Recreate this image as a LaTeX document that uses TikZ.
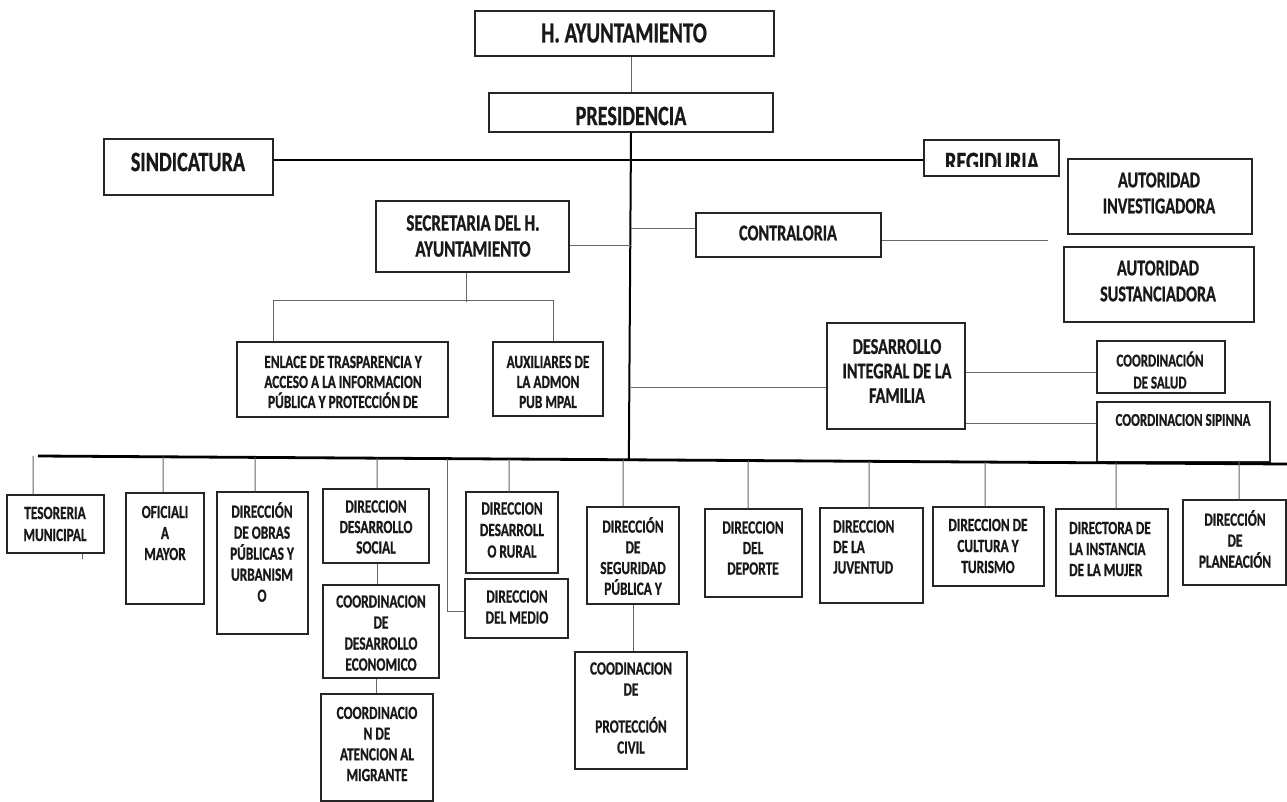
\documentclass[tikz,border=0pt]{standalone}
\usepackage{fontspec}
\setmainfont{Carlito}[FakeStretch=0.72,BoldFeatures={FakeBold=0.8}]
\usetikzlibrary{fit,calc}
\newcommand\orgfs[2]{\fontsize{#1}{#2}\selectfont\bfseries}
\begin{document}
\begin{tikzpicture}[x=1pt,y=-1pt,
  box/.style={draw=black!85,line width=1.3pt,inner sep=0pt},
  conn/.style={draw=black!60,line width=1pt},
  heavy/.style={draw=black,line width=2.8pt},
  trunk/.style={draw=black,line width=2pt},
  txt/.style={align=center,inner sep=0pt,text=black!90},
  txtl/.style={align=left,inner sep=0pt,anchor=west,text=black!90},
  big/.style={font=\orgfs{28}{30}},
  mid/.style={font=\orgfs{22.5}{26}},
  sml/.style={font=\orgfs{18.5}{21}},
]
\useasboundingbox[fill=white] (0,0) rectangle (1287,802);

% ---- boxes
\node[box,fit={(475,11)(774,56)}] (hay) {};
\node[box,fit={(489,93)(773,132)}] (pres) {};
\node[box,fit={(104,139)(273,195)}] (sind) {};
\node[box,fit={(924,140)(1059,176)}] (regi) {};
\node[box,fit={(1068,159)(1252,234)}] (autinv) {};
\node[box,fit={(1064,247)(1254,322)}] (autsus) {};
\node[box,fit={(376,201)(569,272)}] (sec) {};
\node[box,fit={(696,213)(881,257)}] (contr) {};
\node[box,fit={(237,342)(448,417)}] (enl) {};
\node[box,fit={(493,342)(603,416)}] (aux) {};
\node[box,fit={(827,323)(965,429)}] (dif) {};
\node[box,fit={(1097,341)(1225,393)}] (sal) {};
\node[box,fit={(1097,402)(1270,462)}] (sip) {};
\node[box,fit={(7,495)(104,553)}] (tes) {};
\node[box,fit={(126,493)(204,604)}] (ofi) {};
\node[box,fit={(217,492)(308,634)}] (obr) {};
\node[box,fit={(323,489)(429,563)}] (soc) {};
\node[box,fit={(323,585)(439,678)}] (eco) {};
\node[box,fit={(321,694)(433,801)}] (mig) {};
\node[box,fit={(466,492)(558,573)}] (rur) {};
\node[box,fit={(465,579)(568,638)}] (med) {};
\node[box,fit={(587,507)(679,604)}] (seg) {};
\node[box,fit={(575,652)(687,769)}] (pro) {};
\node[box,fit={(705,509)(802,597)}] (dep) {};
\node[box,fit={(820,508)(923,603)}] (juv) {};
\node[box,fit={(933,507)(1044,586)}] (cul) {};
\node[box,fit={(1056,509)(1168,596)}] (muj) {};
\node[box,fit={(1183,500)(1286,585)}] (pla) {};

% ---- texts
\node[txt,font=\orgfs{29}{30}] (hayT) at (624,33) {H. AYUNTAMIENTO};
\node[txt,big] (presT) at (631,116) {PRESIDENCIA};
\node[txt,big] (sindT) at (188,162) {SINDICATURA};
\begin{scope}
  \clip (924,140) rectangle (1059,167);
  \node[txt,big] (regiT) at (992,162) {REGIDURIA};
\end{scope}
\node[txt,mid] (autinvT) at (1159,193) {AUTORIDAD\\INVESTIGADORA};
\node[txt,mid] (autsusT) at (1158,281) {AUTORIDAD\\SUSTANCIADORA};
\node[txt,font=\orgfs{23.5}{26}] (secT) at (473,236) {SECRETARIA DEL H.\\AYUNTAMIENTO};
\node[txt,mid] (contrT) at (788,233) {CONTRALORIA};
\node[txt,font=\orgfs{18.5}{20}] (enlT) at (343,382) {ENLACE DE TRASPARENCIA Y\\ACCESO A LA INFORMACION\\PÚBLICA Y PROTECCIÓN DE};
\node[txt,font=\orgfs{18.5}{20}] (auxT) at (548,382) {AUXILIARES DE\\LA ADMON\\PUB MPAL};
\node[txt,font=\orgfs{22.5}{24.5}] (difT) at (897,371) {DESARROLLO\\INTEGRAL DE LA\\FAMILIA};
\node[txt,font=\orgfs{18}{22}] (salT) at (1160,370) {COORDINACIÓN\\DE SALUD};
\node[txt,font=\orgfs{18}{22}] (sipT) at (1183,420) {COORDINACION SIPINNA};

\node[txt,font=\orgfs{18.5}{22}] (tesT) at (55,524) {TESORERIA\\MUNICIPAL};
\node[txt,sml] (ofiT) at (165,533) {OFICIALI\\A\\MAYOR};
\node[txt,sml] (obrT) at (262,552) {DIRECCIÓN\\DE OBRAS\\PÚBLICAS Y\\URBANISM\\O};
\node[txt,font=\orgfs{18.5}{20.5}] (socT) at (376,527) {DIRECCION\\DESARROLLO\\SOCIAL};
\node[txt,sml] (ecoT) at (381,633) {COORDINACION\\DE\\DESARROLLO\\ECONOMICO};
\node[txt,font=\orgfs{18.5}{20.7}] (migT) at (377,744) {COORDINACIO\\N DE\\ATENCION AL\\MIGRANTE};
\node[txt,font=\orgfs{18.5}{21.5}] (rurT) at (512,530) {DIRECCION\\DESARROLL\\O RURAL};
\node[txt,sml] (medT) at (517,607) {DIRECCION\\DEL MEDIO};
\node[txt,font=\orgfs{18.5}{20.7}] (segT) at (633,556) {DIRECCIÓN\\DE\\SEGURIDAD\\PÚBLICA Y};
\node[txt,sml] (proT) at (631,708) {COODINACION\\DE\\[16pt]PROTECCIÓN\\CIVIL};
\node[txt,font=\orgfs{18.5}{20.5}] (depT) at (753,548) {DIRECCION\\DEL\\DEPORTE};
\node[txtl,font=\orgfs{18.5}{20.5}] (juvT) at (833,547) {DIRECCION\\DE LA\\JUVENTUD};
\node[txt,sml] (culT) at (988,546) {DIRECCION DE\\CULTURA Y\\TURISMO};
\node[txtl,sml] (mujT) at (1069,549) {DIRECTORA DE\\LA INSTANCIA\\DE LA MUJER};
\node[txt,font=\orgfs{18.5}{21}] (plaT) at (1235,539) {DIRECCIÓN\\DE\\PLANEACIÓN};

% ---- connectors
\coordinate (bl) at (38,456);
\coordinate (br) at (1287,464);
\coordinate (cfree) at (1048,241);
\draw[conn] (pres.north) -- (pres.north |- hay.south);
\draw[trunk] (pres.south) -- ($(bl)!(pres.south)!(br)$);
\draw[heavy] ([yshift=-2pt]regi.west -| sind.east) -- ([yshift=-2pt]regi.west);
\draw[heavy] (bl) -- (br);

\draw[conn] ([yshift=-9.5pt]sec.east) -- ([yshift=-9.5pt]sec.east -| pres.south);
\draw[conn] ([yshift=6pt]contr.west) -- ([yshift=6pt]contr.west -| pres.south);
\draw[conn] (contr.east |- cfree) -- (cfree);
\draw[conn] ([yshift=-11pt]dif.west) -- ([yshift=-11pt]dif.west -| pres.south);
\draw[conn] ([yshift=4pt]dif.east) -- ([yshift=4pt]dif.east -| sal.west);
\draw[conn] ([yshift=-47pt]dif.east) -- ([yshift=-47pt]dif.east -| sip.west);
\draw[conn] ([xshift=-6pt]sec.south) -- ++(0,29);
\draw[conn] ([xshift=-69.5pt]enl.north) -- ++(0,-41) -| ([xshift=5pt]aux.north);

\draw[conn] ([xshift=-22.5pt]tes.north) -- ($(bl)!([xshift=-22.5pt]tes.north)!(br)$);
\draw[conn] ([xshift=26.5pt]tes.south) -- ++(0,5);
\draw[conn] ([xshift=-2pt]ofi.north) -- ($(bl)!([xshift=-2pt]ofi.north)!(br)$);
\draw[conn] ([xshift=-7.5pt]obr.north) -- ($(bl)!([xshift=-7.5pt]obr.north)!(br)$);
\draw[conn] ([xshift=1pt]soc.north) -- ($(bl)!([xshift=1pt]soc.north)!(br)$);
\draw[conn] ([xshift=1pt]soc.south) -- ([xshift=1pt]soc.south |- eco.north);
\draw[conn] ([xshift=-5pt]eco.south) -- ([xshift=-5pt]eco.south |- mig.north);
\draw[conn] ($(bl)!([xshift=-18pt]med.west)!(br)$) |- ([yshift=-3pt]med.west);
\draw[conn] ([xshift=-3pt]rur.north) -- ($(bl)!([xshift=-3pt]rur.north)!(br)$);
\draw[conn] ([xshift=-10pt]seg.north) -- ($(bl)!([xshift=-10pt]seg.north)!(br)$);
\draw[conn] (seg.south) -- (seg.south |- pro.north);
\draw[conn] ([xshift=-5.5pt]dep.north) -- ($(bl)!([xshift=-5.5pt]dep.north)!(br)$);
\draw[conn] ([xshift=-2.5pt]juv.north) -- ($(bl)!([xshift=-2.5pt]juv.north)!(br)$);
\draw[conn] ([xshift=-3.5pt]cul.north) -- ($(bl)!([xshift=-3.5pt]cul.north)!(br)$);
\draw[conn] ([xshift=4pt]muj.north) -- ($(bl)!([xshift=4pt]muj.north)!(br)$);
\draw[conn] ([xshift=4.5pt]pla.north) -- ([yshift=3pt]$(bl)!([xshift=4.5pt]pla.north)!(br)$);
\end{tikzpicture}
\end{document}
